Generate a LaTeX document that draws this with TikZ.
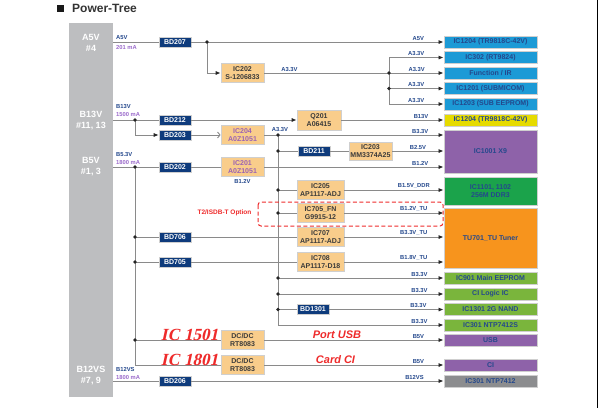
\documentclass[tikz,border=0pt]{standalone}
\usepackage{fontspec}
\setmainfont{Liberation Sans}
\newfontfamily\redserif{Liberation Serif}[FakeSlant=0.22]
\usetikzlibrary{arrows.meta,positioning,calc}

\definecolor{railgrey}{HTML}{8A8A8A}
\definecolor{colgrey}{HTML}{BDBEC0}
\definecolor{bdnavy}{HTML}{0E3B7C}
\definecolor{icorange}{HTML}{F9CD8B}
\definecolor{edgegrey}{HTML}{CFCFCF}
\definecolor{icgrey}{HTML}{3A3A3A}
\definecolor{icpurple}{HTML}{9A62B4}
\definecolor{lblblue}{HTML}{24488C}
\definecolor{lblpurple}{HTML}{9B6BCB}
\definecolor{ldblue}{HTML}{1C9AD6}
\definecolor{ldyellow}{HTML}{E6DB00}
\definecolor{ldpurple}{HTML}{8E62A9}
\definecolor{ldgreen}{HTML}{1BA34B}
\definecolor{ldorange}{HTML}{F7941D}
\definecolor{ldlime}{HTML}{7AB53C}
\definecolor{ldgrey}{HTML}{8C8D8F}
\definecolor{optred}{HTML}{EE2B2B}

\tikzset{
  rail/.style={draw=railgrey,line width=0.9pt},
  feed/.style={rail,-{Latex[length=5pt,width=4.2pt,color=black!85]}},
  bdbox/.style={rectangle,fill=bdnavy,draw=edgegrey,line width=0.6pt,text=white,
    font=\bfseries\fontsize{7}{8}\selectfont,minimum width=32pt,minimum height=10pt,inner sep=0pt},
  icbox/.style={rectangle,fill=icorange,draw=edgegrey,line width=0.8pt,text=icgrey,align=center,
    font=\bfseries\fontsize{7}{8.5}\selectfont,minimum width=43pt,minimum height=19pt,inner sep=0pt},
  ldobox/.style={icbox,minimum width=47pt},
  loadbox/.style={rectangle,draw=edgegrey,line width=1pt,text=lblblue,align=center,
    font=\bfseries\fontsize{7}{8.5}\selectfont,minimum width=93pt,minimum height=12pt,inner sep=0pt},
  rlabel/.style={font=\bfseries\fontsize{5.8}{6}\selectfont,text=lblblue,inner sep=1pt,above},
  slabel/.style={font=\bfseries\fontsize{5.8}{6}\selectfont,inner sep=0pt,anchor=west},
  jdot/.style={circle,fill=black!85,inner sep=0pt,minimum size=3.6pt},
  redtag/.style={text=optred,font=\redserif\bfseries\fontsize{17}{17}\selectfont,inner sep=0pt},
  redsans/.style={text=optred,font=\bfseries\itshape\fontsize{11}{11}\selectfont,inner sep=0pt},
}

\begin{document}
\begin{tikzpicture}[x=1pt,y=-1pt]
\useasboundingbox (0,0) rectangle (600,408);

% Title
\fill[black!90] (57,5) rectangle (64,12);
\node[anchor=west,inner sep=0pt,text=black!80,font=\bfseries\fontsize{12}{12}\selectfont] (title) at (72,8.5) {Power-Tree};
\draw[line width=1.5pt] (597.5,0) -- (597.5,408);

% Supply column
\node[rectangle,fill=colgrey,minimum width=44pt,minimum height=374pt,inner sep=0pt] (col) at (91,210) {};
\node[text=white,align=center,font=\bfseries\fontsize{9}{11}\selectfont] (sa5v) at (91,42.5) {A5V\\\#4};
\node[text=white,align=center,font=\bfseries\fontsize{9}{11}\selectfont] (sb13v) at (91,120.5) {B13V\\\#11, 13};
\node[text=white,align=center,font=\bfseries\fontsize{9}{11}\selectfont] (sb5v) at (91,166.5) {B5V\\\#1, 3};
\node[text=white,align=center,font=\bfseries\fontsize{9}{11}\selectfont] (sb12v) at (91,375.5) {B12VS\\\#7, 9};

% Rail names and currents
\node[slabel,text=lblblue] (na5v) at (116,37.5) {A5V};
\node[slabel,text=lblpurple] (ia5v) at (116,47) {201 mA};
\node[slabel,text=lblblue] (nb13v) at (116,107) {B13V};
\node[slabel,text=lblpurple] (ib13v) at (116,114.5) {1500 mA};
\node[slabel,text=lblblue] (nb5v) at (116,155) {B5.3V};
\node[slabel,text=lblpurple] (ib5v) at (116,162.5) {1800 mA};
\node[slabel,text=lblblue] (nb12v) at (116,369) {B12VS};
\node[slabel,text=lblpurple] (ib12v) at (116,377) {1800 mA};

% Loads
\node[loadbox,fill=ldblue] (ld1) at (490.5,42) {IC1204 (TR9818C-42V)};
\node[loadbox,fill=ldblue] (ld2) at (490.5,57.5) {IC302 (RT9824)};
\node[loadbox,fill=ldblue] (ld3) at (490.5,73) {Function / IR};
\node[loadbox,fill=ldblue] (ld4) at (490.5,88.5) {IC1201 (SUBMICOM)};
\node[loadbox,fill=ldblue] (ld5) at (490.5,104) {IC1203 (SUB EEPROM)};
\node[loadbox,fill=ldyellow] (ld6) at (490.5,120) {IC1204 (TR9818C-42V)};
\node[loadbox,fill=ldpurple,minimum height=43pt] (ld7) at (490.5,151.5) {IC1001 X9};
\node[loadbox,fill=ldgreen,minimum height=28pt] (ld8) at (490.5,191) {IC1101, 1102\\256M DDR3};
\node[loadbox,fill=ldorange,minimum height=60pt] (ld9) at (490.5,238) {TU701\_TU Tuner};
\node[loadbox,fill=ldlime] (ld10) at (490.5,278) {IC901 Main EEPROM};
\node[loadbox,fill=ldlime] (ld11) at (490.5,294) {CI Logic IC};
\node[loadbox,fill=ldlime] (ld12) at (490.5,309.5) {IC1301 2G NAND};
\node[loadbox,fill=ldlime] (ld13) at (490.5,325) {IC301 NTP7412S};
\node[loadbox,fill=ldpurple] (ld14) at (490.5,340) {USB};
\node[loadbox,fill=ldpurple] (ld15) at (490.5,365) {CI};
\node[loadbox,fill=ldgrey] (ld16) at (490.5,381) {IC301 NTP7412};

% A5V branch
\node[bdbox] (bd207) at (175,42) {BD207};
\node[icbox] (ic202) at (242.5,73) {IC202\\S-1206833};
\coordinate (ja) at (207,42);
\coordinate (fork) at (389,0);
\draw[rail] (col.east |- bd207) -- (bd207.west);
\draw[feed] (bd207.east) -- (ld1.west) node[rlabel,pos=0.9] {A5V};
\draw[feed] (ja) |- (ic202.west);
\draw[feed] (ic202.east) -- (ld3.west) node[rlabel,pos=0.85] {A3.3V};
\node[rlabel] at (289.5,73) {A3.3V};
\draw[rail] (fork |- ld2.west) -- (fork |- ld5.west);
\foreach \n in {2,4,5}
  \draw[feed] (fork |- ld\n.west) -- (ld\n.west) node[rlabel,midway] {A3.3V};
\node[jdot] at (ja) {};
\node[jdot] at (fork |- ld3.west) {};
\node[jdot] at (fork |- ld4.west) {};

% B13V branch
\node[bdbox] (bd212) at (175,120) {BD212};
\node[bdbox] (bd203) at (175,135) {BD203};
\node[icbox,minimum width=44pt,minimum height=20pt] (q201) at (319,120) {Q201\\A06415};
\node[icbox,text=icpurple] (ic204) at (242.5,135) {IC204\\A0Z1051};
\coordinate (jb) at (135,120);
\draw[rail] (col.east |- bd212) -- (bd212.west);
\draw[feed] (bd212.east) -- (q201.west);
\draw[feed] (q201.east) -- (ld6.west) node[rlabel,pos=0.78] {B13V};
\draw[feed] (jb) |- (bd203.west);
\draw[rail,-{Straight Barb[length=2.5pt,width=6pt,color=railgrey]}] (bd203.east) -- (ic204.west);
\node[jdot] at (jb) {};

% A3.3V bus from IC204
\coordinate (bus) at (278,0);
\node[rlabel] at (280,133) {A3.3V};
\draw[feed] (ic204.east) -- (ic204.east -| ld7.west) node[rlabel,pos=0.87] {B3.3V};
\draw[rail] (bus |- ic204.east) -- (bus |- ld13.west);
\node[bdbox] (bd211) at (314,151) {BD211};
\node[icbox,minimum height=18pt] (ic203) at (370.5,151) {IC203\\MM3374A25};
\draw[rail] (bus |- bd211) -- (bd211.west);
\draw[rail] (bd211.east) -- (ic203.west);
\draw[feed] (ic203.east) -- (ic203.east -| ld7.west) node[rlabel,midway] {B2.5V};
\node[ldobox] (ic205) at (320.5,190) {IC205\\AP1117-ADJ};
\node[ldobox] (ic705) at (320.5,213) {IC705\_FN\\G9915-12};
\draw[rail] (bus |- ic205) -- (ic205.west);
\draw[rail] (bus |- ic705) -- (ic705.west);
\draw[feed] (ic205.east) -- (ic205.east -| ld8.west) node[rlabel,pos=0.7] {B1.5V\_DDR};
\draw[feed] (ic705.east) -- (ic705.east -| ld9.west) node[rlabel,pos=0.7] {B1.2V\_TU};
\node[bdbox] (bd1301) at (313,309.5) {BD1301};
\draw[feed] (bus |- ld10.west) -- (ld10.west) node[rlabel,pos=0.855] {B3.3V};
\draw[feed] (bus |- ld11.west) -- (ld11.west) node[rlabel,pos=0.855] {B3.3V};
\draw[rail] (bus |- bd1301) -- (bd1301.west);
\draw[feed] (bd1301.east) -- (ld12.west) node[rlabel,pos=0.78] {B3.3V};
\draw[feed] (bus |- ld13.west) -- (ld13.west) node[rlabel,pos=0.855] {B3.3V};
\foreach \y in {135,151,190,213,278,294,309.5}
  \node[jdot] at (bus |- 0,\y) {};

% B5V branch
\node[bdbox] (bd202) at (175,167) {BD202};
\node[icbox,text=icpurple] (ic201) at (242.5,167) {IC201\\A0Z1051};
\node[rlabel,below,inner sep=2pt] (b12lbl) at (ic201.south) {B1.2V};
\coordinate (jc) at (135,167);
\draw[rail] (col.east |- bd202) -- (bd202.west);
\draw[rail] (bd202.east) -- (ic201.west);
\draw[feed] (ic201.east) -- (ic201.east -| ld7.west) node[rlabel,pos=0.87] {B1.2V};
\node[bdbox] (bd706) at (175,237) {BD706};
\node[bdbox] (bd705) at (175,262) {BD705};
\node[ldobox] (ic707) at (320.5,237) {IC707\\AP1117-ADJ};
\node[ldobox] (ic708) at (320.5,262) {IC708\\AP1117-D18};
\node[icbox,minimum height=19pt] (dc1501) at (242.5,340) {DC/DC\\RT8083};
\node[icbox,minimum height=19pt] (dc1801) at (242.5,365) {DC/DC\\RT8083};
\draw[rail] (jc) -- (jc |- dc1801.west) -- (dc1801.west);
\draw[rail] (jc |- bd706) -- (bd706.west);
\draw[rail] (bd706.east) -- (ic707.west);
\draw[rail] (jc |- bd705) -- (bd705.west);
\draw[rail] (bd705.east) -- (ic708.west);
\draw[rail] (jc |- dc1501.west) -- (dc1501.west);
\draw[feed] (ic707.east) -- (ic707.east -| ld9.west) node[rlabel,pos=0.7] {B3.3V\_TU};
\draw[feed] (ic708.east) -- (ic708.east -| ld9.west) node[rlabel,pos=0.7] {B1.8V\_TU};
\draw[feed] (dc1501.east) -- (ld14.west) node[rlabel,pos=0.86] {B5V};
\draw[feed] (dc1801.east) -- (ld15.west) node[rlabel,pos=0.86] {B5V};
\node[jdot] at (jc) {};
\node[jdot] at (jc |- bd706) {};
\node[jdot] at (jc |- bd705) {};
\node[jdot] at (jc |- dc1501.west) {};

% B12VS branch
\node[bdbox] (bd206) at (175,381) {BD206};
\draw[rail] (col.east |- bd206) -- (bd206.west);
\draw[feed] (bd206.east) -- (ld16.west) node[rlabel,pos=0.885] {B12VS};

% T2 option and red notes
\draw[optred,dashed,line width=1pt,rounded corners=3pt,dash pattern=on 4pt off 2.5pt] (258,202) rectangle (443,226);
\node[text=optred,font=\bfseries\fontsize{6.5}{7}\selectfont,inner sep=0pt] (t2opt) at (224.5,213) {T2/ISDB-T Option};
\node[redtag] (tag1501) at (189.5,335) {IC 1501};
\node[redtag] (tag1801) at (189.5,360) {IC 1801};
\node[redsans] (tagusb) at (337,335) {Port USB};
\node[redsans] (tagci) at (335.5,359.5) {Card CI};
\end{tikzpicture}
\end{document}
